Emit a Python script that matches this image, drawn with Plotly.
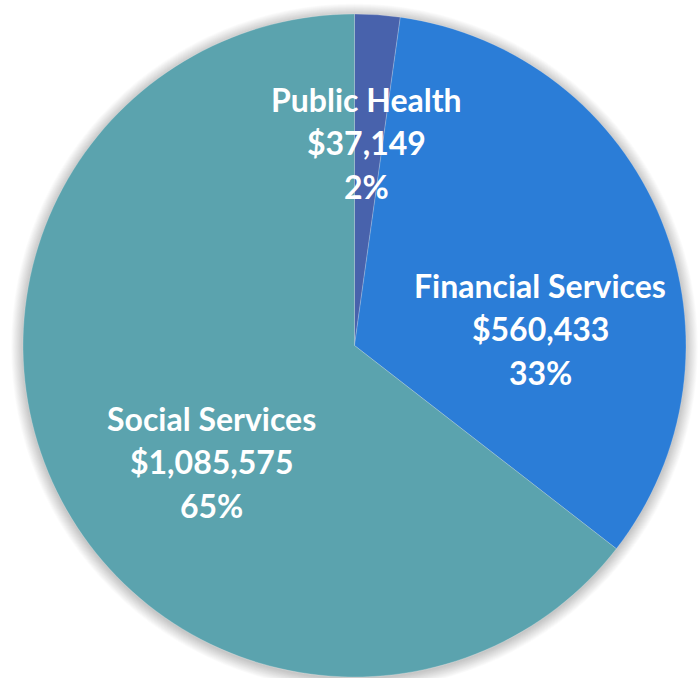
import plotly.graph_objects as go

# Spending by program area
categories = ["Public Health", "Financial Services", "Social Services"]
amounts = [37149, 560433, 1085575]
colors = ["#4862AC", "#2B7DD7", "#5BA3AE"]

W, H = 698, 678
CX, CY, R = 354.5, 345.5, 331.5  # pie centre and radius in pixels

# where each category's label block sits (pixel centre of the first line)
label_pos = {
    "Public Health": (367, 99),
    "Financial Services": (540, 285),
    "Social Services": (211, 418),
}
LINE_STEP = 43.5

total = sum(amounts)


def whole_percents(vals):
    """Round shares to whole percents that still add up to 100."""
    raw = [100 * v / sum(vals) for v in vals]
    base = [int(p) for p in raw]
    left = 100 - sum(base)
    order = sorted(range(len(vals)), key=lambda i: raw[i] - base[i], reverse=True)
    for i in order[:left]:
        base[i] += 1
    return base


percents = whole_percents(amounts)

fig = go.Figure()
fig.add_trace(go.Pie(
    labels=categories,
    values=amounts,
    sort=False,
    direction="clockwise",
    rotation=0,
    marker=dict(colors=colors, line=dict(color="rgba(255,255,255,0.35)", width=0.6)),
    textinfo="none",
    hoverinfo="label+value+percent",
    showlegend=False,
    domain=dict(x=[(CX - R) / W, (CX + R) / W],
                y=[1 - (CY + R) / H, 1 - (CY - R) / H]),
))

# soft glow behind the pie
shapes = []
for i in range(1, 15):
    r = R + i * 0.85
    shapes.append(dict(
        type="circle", xref="paper", yref="paper", layer="below",
        x0=(CX - r) / W, x1=(CX + r) / W,
        y0=1 - (CY + 1.5 + r) / H, y1=1 - (CY + 1.5 - r) / H,
        fillcolor="rgba(0,0,0,0.017)", line=dict(width=0),
    ))

annotations = []
for name, val, pct in zip(categories, amounts, percents):
    x, y = label_pos[name]
    lines = [name, f"${val:,}", f"{pct}%"]
    for k, txt in enumerate(lines):
        annotations.append(dict(
            text=f"<b>{txt}</b>", x=x / W, y=1 - (y + k * LINE_STEP) / H,
            xref="paper", yref="paper", xanchor="center", yanchor="middle",
            showarrow=False,
            font=dict(family="Lato", size=32, color="white"),
        ))

fig.update_layout(
    width=W, height=H,
    margin=dict(l=0, r=0, t=0, b=0),
    paper_bgcolor="white", plot_bgcolor="white",
    shapes=shapes, annotations=annotations,
)

fig.write_html("out.html")
